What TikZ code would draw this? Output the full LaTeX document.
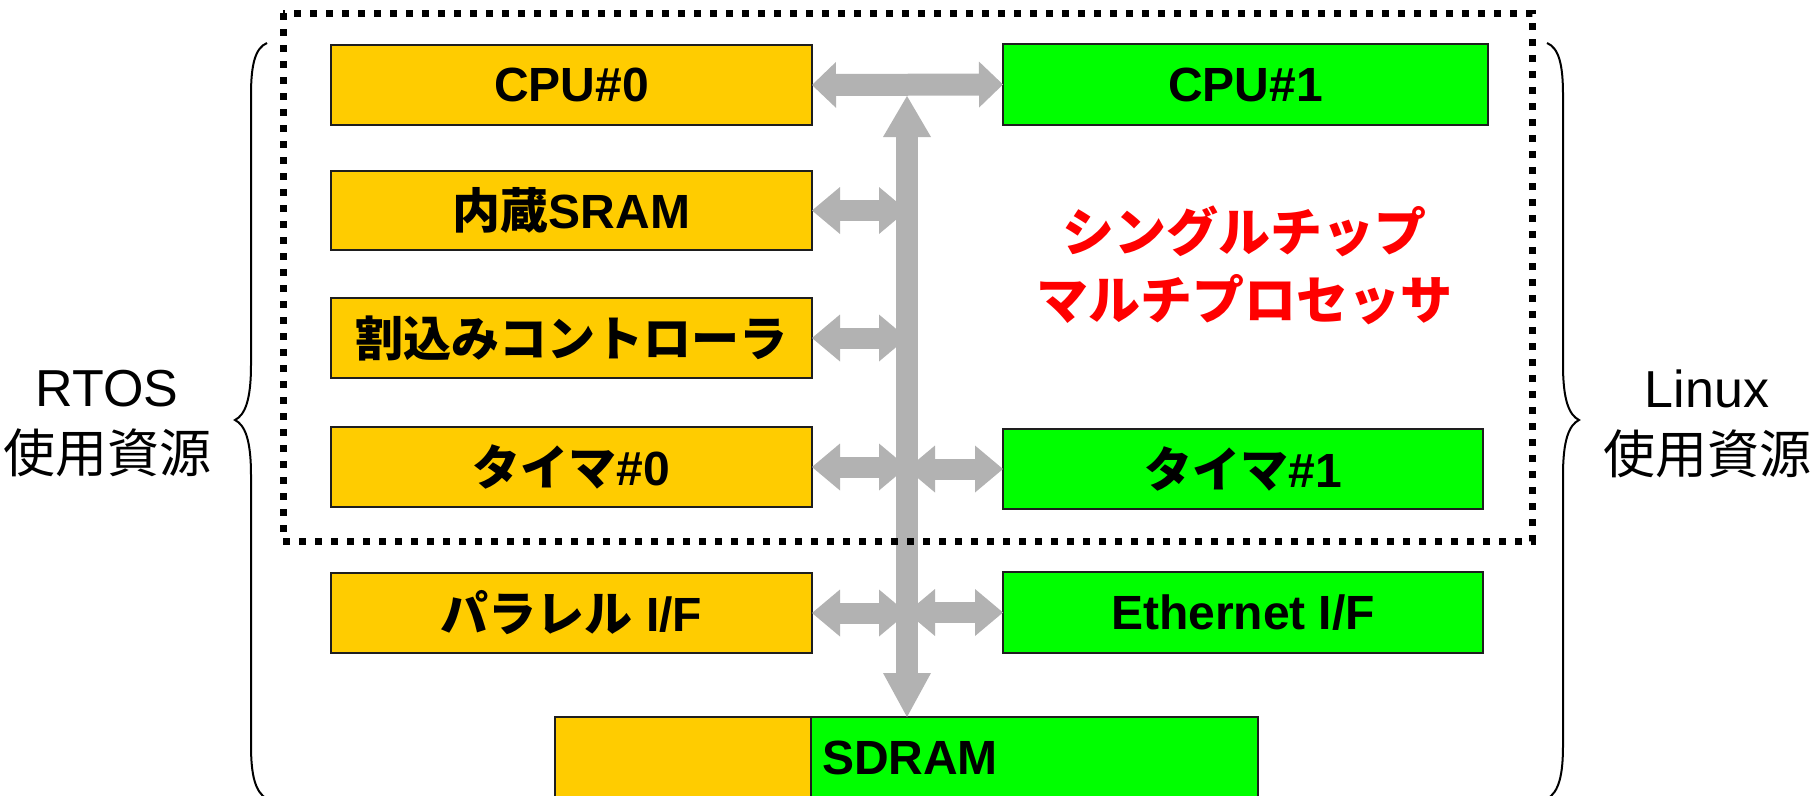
\documentclass[tikz,border=0pt]{standalone}
\usepackage{fontspec}
\setmainfont{Liberation Sans}
\newfontfamily\jp{Noto Sans CJK JP}
\usetikzlibrary{arrows.meta}
\definecolor{ocore}{RGB}{255,204,0}
\definecolor{lcore}{RGB}{0,255,0}
\definecolor{busgray}{RGB}{178,178,178}
\definecolor{edge}{RGB}{30,30,30}
\newcommand\ja[1]{{\jp #1}}
\tikzset{
  unit/.style={draw=edge, line width=1.8pt, inner sep=0pt, outer sep=0pt,
    font=\fontsize{48}{58}\selectfont\bfseries},
  obox/.style={unit, fill=ocore, minimum width=481pt, minimum height=80pt},
  gbox/.style={unit, fill=lcore, minimum width=482pt, minimum height=80pt},
  branch/.style={draw=busgray, line width=21pt,
    {Triangle[length=28pt,width=47pt,line width=0pt]}-{Triangle[length=28pt,width=47pt,line width=0pt]}},
  busline/.style={draw=busgray, line width=22pt,
    {Triangle[length=41pt,width=48pt,line width=0pt]}-{Triangle[length=44pt,width=48pt,line width=0pt]}},
  toplink/.style={draw=busgray, line width=22pt,
    {Triangle[length=24pt,width=46pt,line width=0pt]}-{Triangle[length=24pt,width=46pt,line width=0pt]}},
  brace/.style={draw=black, line width=2pt},
  side/.style={align=center, font=\fontsize{52}{66}\selectfont},
}
\begin{document}
\begin{tikzpicture}[x=1pt, y=-1pt]
\useasboundingbox (0,0) rectangle (1814,795);

% RTOS side
\node[obox] (cpu0) at (571.5,85) {CPU\#0};
\node[obox, minimum height=79pt] (sram) at (571.5,210.5) {\ja{内蔵}SRAM};
\node[obox] (intc) at (571.5,338) {\ja{割込みコントローラ}};
\node[obox] (tmr0) at (571.5,467) {\ja{タイマ}\#0};
\node[obox] (par) at (571.5,613) {\ja{パラレル} I/F};

% Linux side
\node[gbox, minimum width=485pt, minimum height=81pt] (cpu1) at (1245.5,84.5) {CPU\#1};
\node[gbox, minimum width=480pt] (tmr1) at (1243,469) {\ja{タイマ}\#1};
\node[gbox, minimum width=480pt, minimum height=81pt] (eth) at (1243,612.5) {Ethernet I/F};

% shared memory, split between both systems
\node[obox, minimum width=256pt, minimum height=81pt] (sdramo) at (683,757.5) {};
\node[gbox, minimum width=447pt, minimum height=81pt, text width=425pt, align=left] (sdramg) at (1034.5,757.5) {SDRAM};

% internal bus
\coordinate (bus) at (907,0);
\draw[branch] (sram.east) -- (sram.east -| bus);
\draw[branch] (intc.east) -- (intc.east -| bus);
\draw[branch] (tmr0.east) -- (tmr0.east -| bus);
\draw[branch] (par.east) -- (par.east -| bus);
\draw[branch] (tmr1.west -| bus) -- (tmr1.west);
\draw[branch] (eth.west -| bus) -- (eth.west);
\draw[busline] ([yshift=-11pt]cpu0.east -| bus) -- (sdramg.north -| bus);
\draw[toplink] (cpu0.east) -- (cpu1.west);

% chip boundary
\draw[line width=7pt, dash pattern=on 7pt off 9pt] (283,13) rectangle (1532,541);
\node[text=red, align=center, font=\fontsize{52}{68}\selectfont\bfseries\jp] (chip) at (1244,265)
  {シングルチップ\\マルチプロセッサ};

% resource groups
\draw[brace] (267,43) .. controls (255,48) and (251,65) .. (251,95) -- (251,365)
  .. controls (251,400) and (245,415) .. (235,420)
  .. controls (245,425) and (251,440) .. (251,475) -- (251,745)
  .. controls (251,775) and (255,792) .. (267,799);
\draw[brace] (1547,43) .. controls (1559,48) and (1563,65) .. (1563,95) -- (1563,365)
  .. controls (1563,400) and (1569,415) .. (1579,420)
  .. controls (1569,425) and (1563,440) .. (1563,475) -- (1563,745)
  .. controls (1563,775) and (1559,792) .. (1547,799);
\node[side] (rtos) at (107,424) {RTOS\\\ja{使用資源}};
\node[side] (linux) at (1707,424) {Linux\\\ja{使用資源}};
\end{tikzpicture}
\end{document}
